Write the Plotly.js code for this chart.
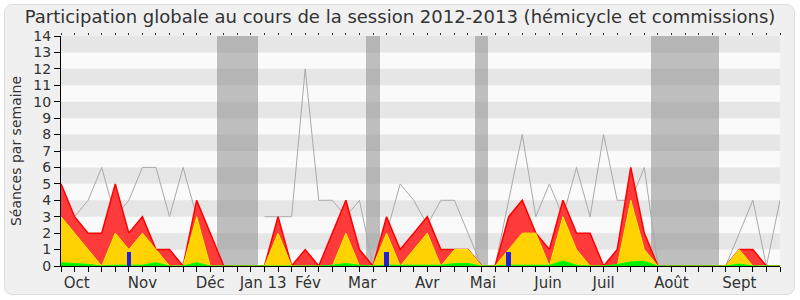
<!DOCTYPE html>
<html><head><meta charset="utf-8">
<script src="https://cdn.plot.ly/plotly-3.0.1.min.js"></script>
<style>
body{margin:0;background:#fff;}
#frame{position:absolute;left:4px;top:4px;width:789px;height:289px;background:#f0f0f0;border:1px solid #dedede;border-radius:8px;}
#chart{position:absolute;left:0;top:0;width:800px;height:300px;}
</style></head><body>
<div id="frame"></div><div id="chart"></div>
<script>
const weeks = [0,1,2,3,4,5,6,7,8,9,10,11,12,13,14,15,16,17,18,19,20,21,22,23,24,25,26,27,28,29,30,31,32,33,34,35,36,37,38,39,40,41,42,43,44,45,46,47,48,49,50,51,52,53];
const presence = [5,3,2,2,5,2,3,1,1,0,4,2,0,0,0,0,3,0,1,0,2,4,1,0,3,1,2,3,1,1,1,0,0,3,4,2,1,4,2,2,0,1,6,2,0,0,0,0,0,0,1,1,0,0];
const interventions = [3,2,1,0,2,1,2,1,0,0,3,0,0,0,0,0,2,0,0,0,0,2,0,0,2,0,1,2,0,1,1,0,0,1,2,2,0,3,1,0,0,0,4,1,0,0,0,0,0,0,1,0,0,0];
const hemicycle = [0.2,0.15,0.1,0,0.05,0.05,0.05,0.2,0,0,0.2,0,0,0,0,0,0,0,0,0,0.05,0.15,0.05,0,0.05,0.05,0.05,0.05,0.05,0.15,0.15,0,0,0.05,0.05,0.05,0.05,0.3,0.05,0,0,0.1,0.25,0.28,0,0,0,0,0,0,0.12,0,0,0];
const median = [4,3,4,6,3,4,6,6,3,6,3,2,null,null,null,3,3,3,12,4,4,3,4,0,2,5,4,2.5,4,4,2,0,0,4,8,3,5,3,6,3,8,4,4,6,0,0,0,0,0,0,2,4,0,4];
const questionWeeks = [5,24,33];
const questionValues = [0.85,0.87,0.87];
const vacationWeeks = [12,13,14,23,31,44,45,46,47,48];
const monthPos = [1.16,6,11,14.9,18.2,22.2,27,31.1,35.9,40,45,50];
const monthLabels = ['Oct','Nov','Déc','Jan 13','Fév','Mar','Avr','Mai','Juin','Juil','Août','Sept'];
const yTicks = [0,1,2,3,4,5,6,7,8,9,10,11,12,13,14];
const yMax = 14;

const font = 'DejaVu Sans, Verdana, sans-serif';

const traces = [
  {type:'bar', x:vacationWeeks, y:vacationWeeks.map(()=>yMax), width:1,
   marker:{color:'rgba(140,140,140,0.55)', line:{width:0}}, hoverinfo:'skip', showlegend:false},
  {type:'scatter', mode:'lines', x:weeks, y:median, line:{color:'#aaaaaa', width:1}, connectgaps:false, showlegend:false},
  {type:'scatter', mode:'lines', x:weeks, y:presence, fill:'tozeroy', fillcolor:'rgb(255,58,58)',
   line:{color:'#ff0000', width:1.5}, showlegend:false},
  {type:'scatter', mode:'lines', x:weeks, y:interventions, fill:'tozeroy', fillcolor:'#ffd200',
   line:{color:'#ffee00', width:1}, showlegend:false},
  {type:'scatter', mode:'lines', x:weeks, y:hemicycle, fill:'tozeroy', fillcolor:'#00ee00',
   line:{color:'#00ff00', width:1}, showlegend:false},
  {type:'bar', x:questionWeeks, y:questionValues, width:0.33, xaxis:'x', yaxis:'y2',
   marker:{color:'#2222dd', line:{width:0}}, showlegend:false},
  {type:'scatter', mode:'lines', x:[null], y:[null], xaxis:'x2', yaxis:'y', hoverinfo:'skip', showlegend:false},
  {type:'scatter', mode:'lines', x:[null], y:[null], xaxis:'x3', yaxis:'y', hoverinfo:'skip', showlegend:false}
];

const shapes = [];
for (let k = 1; k < yMax; k += 2) {
  shapes.push({type:'rect', xref:'paper', yref:'y', x0:0, x1:1, y0:yTicks[k], y1:yTicks[k+1],
    fillcolor:'#e6e6e6', line:{width:0}, layer:'below'});
}

const layout = {
  width:800, height:300,
  margin:{l:61, r:20, t:36, b:34},
  paper_bgcolor:'rgba(0,0,0,0)',
  plot_bgcolor:'#fafafa',
  font:{family:font, color:'#333'},
  title:{text:'Participation globale au cours de la session 2012-2013 (hémicycle et commissions)',
    font:{family:font, size:18, color:'#333'}, x:0.5, xref:'container', xanchor:'center',
    y:0.945, yref:'container', yanchor:'middle'},
  barmode:'overlay',
  bargap:0,
  showlegend:false,
  shapes:shapes,
  xaxis:{range:[0,53], tickvals:weeks, showticklabels:false, ticks:'outside', ticklen:5,
    tickcolor:'#000', showline:true, linecolor:'#000', linewidth:1, showgrid:false, zeroline:false, fixedrange:true},
  xaxis2:{overlaying:'x', side:'top', anchor:'y', range:[0,53], tickvals:weeks, showticklabels:false,
    ticks:'outside', ticklen:2, tickcolor:'#333', showline:false, showgrid:false, zeroline:false},
  xaxis3:{overlaying:'x', side:'bottom', anchor:'y', range:[0,53], tickvals:monthPos, ticktext:monthLabels,
    ticks:'outside', ticklen:3, tickcolor:'rgba(0,0,0,0)', showline:false, showgrid:false, zeroline:false,
    tickfont:{family:font, size:15, color:'#333'}},
  yaxis:{range:[0,yMax], tickvals:yTicks, ticks:'outside', ticklen:6, tickcolor:'#000',
    showline:true, linecolor:'#000', linewidth:1, showgrid:false, zeroline:false,
    tickfont:{family:font, size:14, color:'#333'},
    title:{text:'Séances par semaine', font:{family:font, size:14, color:'#333'}, standoff:8}},
  yaxis2:{overlaying:'y', range:[0,yMax], visible:false}
};

Plotly.newPlot('chart', traces, layout, {staticPlot:true, displayModeBar:false});
</script>
</body></html>
